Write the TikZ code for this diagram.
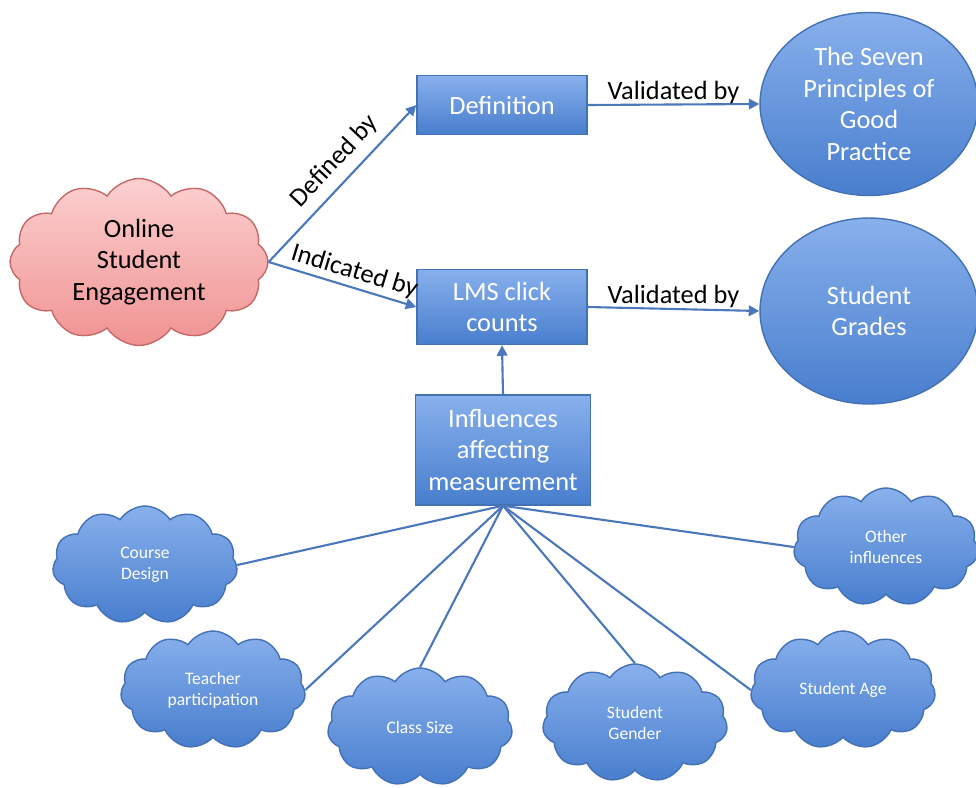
\documentclass[tikz,border=0pt]{standalone}
\usepackage{fontspec}
\setmainfont{Carlito}
\usepackage{tikz}
\usetikzlibrary{shapes.symbols, shapes.geometric, arrows.meta}
\definecolor{boxtop}{RGB}{136,176,236}
\definecolor{boxbot}{RGB}{72,126,206}
\definecolor{boxline}{RGB}{68,112,180}
\definecolor{pinktop}{RGB}{252,208,208}
\definecolor{pinkbot}{RGB}{240,146,146}
\definecolor{pinkline}{RGB}{196,104,104}
\definecolor{linkblue}{RGB}{74,120,186}

\begin{document}
\begin{tikzpicture}[x=0.02cm, y=-0.02cm,
  every node/.style={inner sep=2pt},
  big/.style={font=\fontsize{15}{18}\selectfont},
  small/.style={font=\fontsize{10}{12}\selectfont},
  box/.style={big, draw=boxline, line width=0.8pt, top color=boxtop,
              bottom color=boxbot, text=white, align=center,
              minimum width=3.4cm},
  disc/.style={big, ellipse, draw=boxline, line width=0.8pt,
               top color=boxtop, bottom color=boxbot, text=white,
               align=center, minimum width=4.36cm, minimum height=3.66cm},
  puff/.style={small, cloud, cloud puffs=11, cloud puff arc=115,
               cloud ignores aspect, draw=boxline, line width=0.8pt,
               top color=boxtop, bottom color=boxbot, text=white,
               align=center, minimum width=3.7cm, minimum height=2.36cm},
  lbl/.style={big, text=black, inner sep=1pt},
  arrow/.style={-{Triangle[length=6pt, width=6pt]}, linkblue, line width=1.2pt},
  link/.style={linkblue, line width=1.2pt}]
\useasboundingbox (0,0) rectangle (976,787);

% engagement and its measures
\node[big, cloud, cloud puffs=12, cloud puff arc=115, cloud ignores aspect,
      draw=pinkline, line width=0.8pt, top color=pinktop, bottom color=pinkbot,
      align=center, minimum width=5.16cm, minimum height=3.34cm]
      (ose) at (139,262) {Online\\Student\\Engagement};
\node[box, minimum height=1.18cm] (def) at (502,105) {Definition};
\node[box, minimum height=1.5cm] (lms) at (502,307) {LMS click\\counts};
\node[box, minimum width=3.5cm, minimum height=2.2cm]
      (infl) at (503,450) {Influences\\affecting\\measurement};
\node[disc] (seven) at (869,104) {The Seven\\Principles of\\Good\\Practice};
\node[disc, minimum height=3.72cm] (grades) at (869,311) {Student\\Grades};

\draw[arrow] (ose.east) -- node[lbl, above=4pt, sloped, pos=0.55] (ldef) {Defined by} (def.west);
\draw[arrow] (ose.east) -- node[lbl, above=1pt, sloped, pos=0.55] (lind) {Indicated by} (lms.west);
\draw[arrow] (def.east) -- node[lbl, above=-1pt] (lval1) {Validated by} (seven.west);
\draw[arrow] (lms.east) -- node[lbl, above=-1pt] (lval2) {Validated by} (grades.west);
\draw[arrow] (infl.north) -- (lms.south);

% influences
\node[puff] (design) at (145,565) {Course\\Design};
\node[puff] (teacher) at (213,690) {Teacher\\participation};
\node[puff] (size) at (420,727) {Class Size};
\node[puff] (gender) at (635,723) {Student\\Gender};
\node[puff] (age) at (843,690) {Student Age};
\node[puff] (other) at (886,547) {Other\\influences};

\draw[link] (infl.south) -- (design.east);
\draw[link] (infl.south) -- (teacher.east);
\draw[link] (infl.south) -- (size.north);
\draw[link] (infl.south) -- (gender.north);
\draw[link] (infl.south) -- (age.west);
\draw[link] (infl.south) -- (other.west);
\end{tikzpicture}
\end{document}
